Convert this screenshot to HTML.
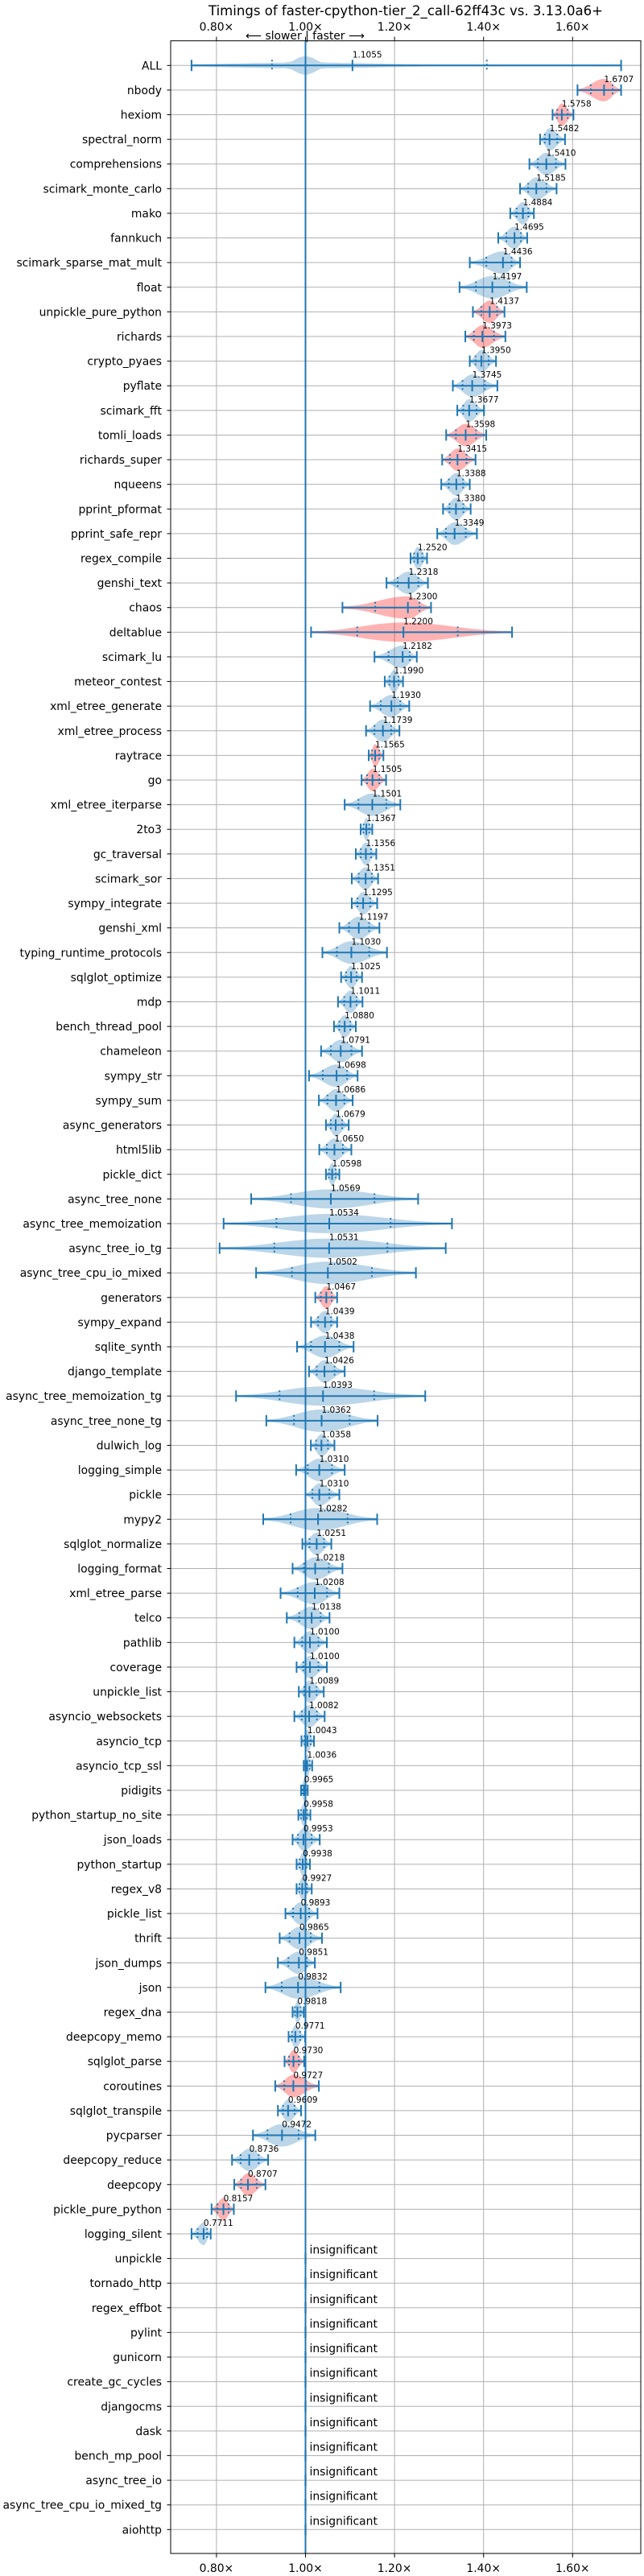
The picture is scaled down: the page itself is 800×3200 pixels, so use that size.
<!DOCTYPE html>
<html><head><meta charset="utf-8"><style>
html,body{margin:0;padding:0;background:#fff;}
svg{display:block;font-family:"DejaVu Sans","Liberation Sans",sans-serif;}
</style></head><body>
<svg id="chart" width="800" height="3200" viewBox="0 0 800 3200" xmlns="http://www.w3.org/2000/svg">
<text x="504" y="19" font-size="16.5" text-anchor="middle" textLength="490" lengthAdjust="spacingAndGlyphs">Timings of faster-cpython-tier_2_call-62ff43c vs. 3.13.0a6+</text>
<text x="379" y="49" font-size="13.9" text-anchor="middle">⟵ slower | faster ⟶</text>
<g id="grid"></g><g id="marks"></g><g id="labels"></g>
<rect x="212" y="50.7" width="584" height="3121.3" fill="none" stroke="#000" stroke-width="1"/>
</svg>
<script>
const benchNames = ["ALL","nbody","hexiom","spectral_norm","comprehensions","scimark_monte_carlo","mako","fannkuch","scimark_sparse_mat_mult","float","unpickle_pure_python","richards","crypto_pyaes","pyflate","scimark_fft","tomli_loads","richards_super","nqueens","pprint_pformat","pprint_safe_repr","regex_compile","genshi_text","chaos","deltablue","scimark_lu","meteor_contest","xml_etree_generate","xml_etree_process","raytrace","go","xml_etree_iterparse","2to3","gc_traversal","scimark_sor","sympy_integrate","genshi_xml","typing_runtime_protocols","sqlglot_optimize","mdp","bench_thread_pool","chameleon","sympy_str","sympy_sum","async_generators","html5lib","pickle_dict","async_tree_none","async_tree_memoization","async_tree_io_tg","async_tree_cpu_io_mixed","generators","sympy_expand","sqlite_synth","django_template","async_tree_memoization_tg","async_tree_none_tg","dulwich_log","logging_simple","pickle","mypy2","sqlglot_normalize","logging_format","xml_etree_parse","telco","pathlib","coverage","unpickle_list","asyncio_websockets","asyncio_tcp","asyncio_tcp_ssl","pidigits","python_startup_no_site","json_loads","python_startup","regex_v8","pickle_list","thrift","json_dumps","json","regex_dna","deepcopy_memo","sqlglot_parse","coroutines","sqlglot_transpile","pycparser","deepcopy_reduce","deepcopy","pickle_pure_python","logging_silent","unpickle","tornado_http","regex_effbot","pylint","gunicorn","create_gc_cycles","djangocms","dask","bench_mp_pool","async_tree_io","async_tree_cpu_io_mixed_tg","aiohttp"];
const medians = [1.1055,1.6707,1.5758,1.5482,1.5410,1.5185,1.4884,1.4695,1.4436,1.4197,1.4137,1.3973,1.3950,1.3745,1.3677,1.3598,1.3415,1.3388,1.3380,1.3349,1.2520,1.2318,1.2300,1.2200,1.2182,1.1990,1.1930,1.1739,1.1565,1.1505,1.1501,1.1367,1.1356,1.1351,1.1295,1.1197,1.1030,1.1025,1.1011,1.0880,1.0791,1.0698,1.0686,1.0679,1.0650,1.0598,1.0569,1.0534,1.0531,1.0502,1.0467,1.0439,1.0438,1.0426,1.0393,1.0362,1.0358,1.0310,1.0310,1.0282,1.0251,1.0218,1.0208,1.0138,1.0100,1.0100,1.0089,1.0082,1.0043,1.0036,0.9965,0.9958,0.9953,0.9938,0.9927,0.9893,0.9865,0.9851,0.9832,0.9818,0.9771,0.9730,0.9727,0.9609,0.9472,0.8736,0.8707,0.8157,0.7711,null,null,null,null,null,null,null,null,null,null,null,null];
const lows = [0.744,1.611,1.555,1.527,1.503,1.482,1.460,1.433,1.369,1.346,1.376,1.359,1.369,1.331,1.341,1.316,1.307,1.305,1.309,1.296,1.236,1.182,1.083,1.0125,1.155,1.178,1.145,1.136,1.142,1.126,1.088,1.124,1.113,1.104,1.104,1.076,1.038,1.080,1.073,1.064,1.035,1.008,1.030,1.046,1.031,1.046,0.878,0.816,0.807,0.889,1.022,1.0125,0.981,1.008,0.844,0.912,1.012,0.979,1.0,0.905,0.993,0.971,0.944,0.958,0.975,0.980,0.985,0.975,0.991,0.996,0.990,0.984,0.971,0.980,0.980,0.955,0.942,0.938,0.910,0.971,0.962,0.953,0.932,0.938,0.882,0.835,0.840,0.789,0.744,0.999,0.999,0.999,0.999,0.999,0.999,0.999,0.999,0.999,0.999,0.999,0.999];
const highs = [1.709,1.709,1.602,1.583,1.584,1.564,1.513,1.498,1.482,1.497,1.447,1.449,1.428,1.431,1.401,1.406,1.382,1.369,1.371,1.385,1.273,1.275,1.282,1.464,1.250,1.219,1.233,1.211,1.175,1.181,1.213,1.150,1.159,1.163,1.161,1.166,1.183,1.127,1.128,1.113,1.127,1.117,1.106,1.097,1.103,1.076,1.253,1.329,1.315,1.248,1.071,1.071,1.108,1.088,1.269,1.162,1.065,1.088,1.076,1.161,1.058,1.083,1.076,1.054,1.048,1.048,1.041,1.043,1.019,1.015,1.005,1.011,1.032,1.010,1.014,1.027,1.037,1.021,1.079,0.996,0.999,0.997,1.030,0.990,1.022,0.916,0.910,0.839,0.787,1.001,1.001,1.001,1.001,1.001,1.001,1.001,1.001,1.001,1.001,1.001,1.001];
const slowerFlags = [0,1,1,0,0,0,0,0,0,0,1,1,0,0,0,1,1,0,0,0,0,0,1,1,0,0,0,0,1,1,0,0,0,0,0,0,0,0,0,0,0,0,0,0,0,0,0,0,0,0,1,0,0,0,0,0,0,0,0,0,0,0,0,0,0,0,0,0,0,0,0,0,0,0,0,0,0,0,0,0,0,1,1,0,0,0,1,1,0,0,0,0,0,0,0,0,0,0,0,0,0];
const modeOverrides = {0: 1.0};
const xTicks = [0.8,1.0,1.2,1.4,1.6];
const xTickLabels = ["0.80×","1.00×","1.20×","1.40×","1.60×"];

const NS="http://www.w3.org/2000/svg";
const X0=212, X1=796, Y0=50.7, Y1=3172;
function xs(v){return 379.5+(v-1)*553;}
function ys(i){return 81.3+i*30.61;}
function mk(tag,parent){const e=document.createElementNS(NS,tag);parent.appendChild(e);return e;}
const grid=document.getElementById('grid'), marks=document.getElementById('marks'), labels=document.getElementById('labels');
const BLUE="#1f77b4";

xTicks.forEach((t,k)=>{
  const l=mk('line',grid);
  
  
  l.setAttribute('x1',xs(t));l.setAttribute('x2',xs(t));l.setAttribute('y1',Y0);l.setAttribute('y2',Y1);
  l.setAttribute('stroke','#b0b0b0');l.setAttribute('stroke-width','1');
  [[38,Y0,Y0-5],[3195,Y1,Y1+5]].forEach(p=>{
    const tx=mk('text',labels);
    
    
    tx.setAttribute('x',xs(t));tx.setAttribute('y',p[0]);tx.setAttribute('font-size','13.9');tx.setAttribute('text-anchor','middle');
    tx.textContent=xTickLabels[k];
    const tk=mk('line',grid);
    
    
    tk.setAttribute('x1',xs(t));tk.setAttribute('x2',xs(t));tk.setAttribute('y1',p[1]);tk.setAttribute('y2',p[2]);tk.setAttribute('stroke','#000');
  });
});
benchNames.forEach((n,i)=>{
  const y=ys(i);
  const l=mk('line',grid);
  
  
  l.setAttribute('x1',X0);l.setAttribute('x2',X1);l.setAttribute('y1',y);l.setAttribute('y2',y);
  l.setAttribute('stroke','#b0b0b0');l.setAttribute('stroke-width','1');
  const tk=mk('line',grid);
  
  
  tk.setAttribute('x1',207.5);tk.setAttribute('x2',X0);tk.setAttribute('y1',y);tk.setAttribute('y2',y);tk.setAttribute('stroke','#000');
  const tx=mk('text',labels);
  
  
  tx.setAttribute('x',201);tx.setAttribute('y',y+5);tx.setAttribute('font-size','13.9');tx.setAttribute('text-anchor','end');
  tx.textContent=n;
});

function vline(x,y,h,dash,name){
  const l=mk('line',marks);
  
  
  l.setAttribute('x1',x);l.setAttribute('x2',x);l.setAttribute('y1',y-h);l.setAttribute('y2',y+h);
  l.setAttribute('stroke',BLUE);l.setAttribute('stroke-width','2');
  if(dash)l.setAttribute('stroke-dasharray','2,3');
}
benchNames.forEach((n,i)=>{
  const y=ys(i), m=medians[i];
  const a=xs(lows[i]), b=xs(highs[i]);
  if(m===null){
    const v=mk('rect',marks);
    
    
    v.setAttribute('x',a-1);v.setAttribute('y',y-7);v.setAttribute('width',b-a+2);v.setAttribute('height',14);v.setAttribute('fill',BLUE);v.setAttribute('fill-opacity','0.3');
    const tx=mk('text',labels);
    
    
    tx.setAttribute('x',xs(1)+5);tx.setAttribute('y',y-6);tx.setAttribute('font-size','13.9');
    tx.textContent='insignificant';
    return;
  }
  const c=xs(m), span=b-a;
  const pk = (i in modeOverrides) ? xs(modeOverrides[i]) : c;
  const h = span>200 ? 12 : 14;
  const N=60, top=[], bot=[];
  for(let k=0;k<=N;k++){
    const x=a+span*k/N;
    let w;
    if(i in modeOverrides){
      const d=(x-pk)/18;
      w=h*Math.max(Math.exp(-d*d),0.3*Math.exp(-Math.pow((x-pk)/140,2)),0.1);
    } else {
      let u = x<=pk ? (x-a)/Math.max(pk-a,1) : (b-x)/Math.max(b-pk,1);
      u=Math.max(0,Math.min(1,u));
      w=h*(0.12+0.88*Math.pow(Math.sin(u*Math.PI/2),2.2));
    }
    top.push(x.toFixed(1)+','+(y-w).toFixed(1));bot.unshift(x.toFixed(1)+','+(y+w).toFixed(1));
  }
  const p=mk('polygon',marks);
  
  
  p.setAttribute('points',top.concat(bot).join(' '));
  p.setAttribute('fill',slowerFlags[i]?'#ff0000':BLUE);p.setAttribute('fill-opacity','0.3');
  const hl=mk('line',marks);
  
  
  hl.setAttribute('x1',a);hl.setAttribute('x2',b);hl.setAttribute('y1',y);hl.setAttribute('y2',y);hl.setAttribute('stroke',BLUE);hl.setAttribute('stroke-width','2');
  vline(a,y,7,false,'min-cap');vline(b,y,7,false,'max-cap');vline(c,y,7,false,'median-tick');
  vline((a+c)/2,y,7,true,'quartile-tick');vline((c+b)/2,y,7,true,'quartile-tick');
  const tx=mk('text',labels);
  
  
  tx.setAttribute('x',c);tx.setAttribute('y',y-10);tx.setAttribute('font-size','10.5');
  tx.textContent=m.toFixed(4);
});
const ref=mk('line',marks);


ref.setAttribute('x1',xs(1));ref.setAttribute('x2',xs(1));ref.setAttribute('y1',Y0);ref.setAttribute('y2',Y1);ref.setAttribute('stroke',BLUE);ref.setAttribute('stroke-width','2');
</script>
</body></html>
